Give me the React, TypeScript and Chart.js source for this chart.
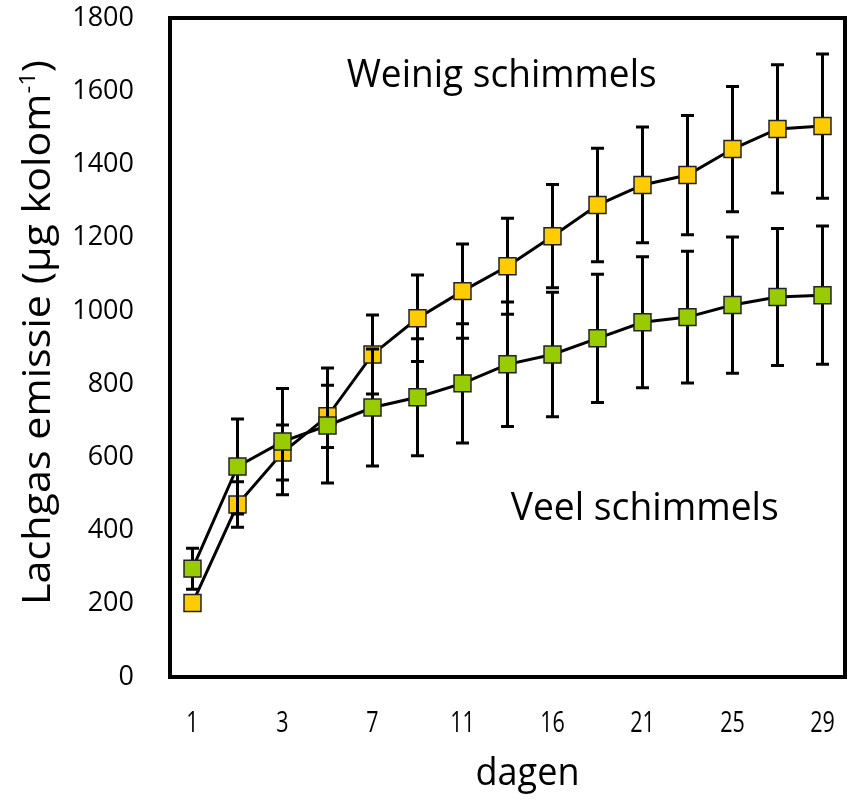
import React, { useEffect, useRef } from "react";
import { Chart, registerables } from "chart.js";

Chart.register(...registerables);

const dayLabels = ["1", "", "3", "", "7", "", "11", "", "16", "", "21", "", "25", "", "29"];
const weinigValues = [202, 471, 613, 712, 881, 980, 1054, 1122, 1204, 1289, 1344, 1371, 1442, 1497, 1505];
const weinigErrors = [20, 62, 75, 85, 108, 118, 129, 131, 141, 155, 158, 163, 171, 175, 197];
const veelValues = [296, 575, 643, 687, 736, 764, 802, 854, 881, 925, 969, 983, 1016, 1038, 1043];
const veelErrors = [56, 130, 145, 157, 160, 160, 163, 170, 170, 175, 179, 180, 186, 187, 189];
const yTicks = [0, 200, 400, 600, 800, 1000, 1200, 1400, 1600, 1800];

const seriesNames = ["Weinig schimmels", "Veel schimmels"];
const yTitleMain = "Lachgas emissie (µg kolom";
const yTitleSup = "-1";
const yTitleEnd = ")";
const xTitle = "dagen";

const errorsByDataset = [weinigErrors, veelErrors];
const FONT = "'Open Sans', 'Noto Sans', sans-serif";

const errorBarPlugin = {
  id: "errorBars",
  beforeDatasetDraw(chart: any, args: any) {
    const errs = errorsByDataset[args.index];
    const ds = chart.data.datasets[args.index];
    if (!errs) return;
    const ctx = chart.ctx;
    const y = chart.scales.y;
    ctx.save();
    ctx.strokeStyle = "#000";
    ctx.lineWidth = 3;
    ctx.lineCap = "butt";
    args.meta.data.forEach((pt: any, i: number) => {
      const v = ds.data[i];
      const e = errs[i];
      const top = y.getPixelForValue(v + e);
      const bot = y.getPixelForValue(v - e);
      const cw = 6.5;
      ctx.beginPath();
      ctx.moveTo(pt.x, top);
      ctx.lineTo(pt.x, bot);
      ctx.moveTo(pt.x - cw, top);
      ctx.lineTo(pt.x + cw, top);
      ctx.moveTo(pt.x - cw, bot);
      ctx.lineTo(pt.x + cw, bot);
      ctx.stroke();
    });
    ctx.restore();
  },
};

function fitText(ctx: any, text: string, x: number, y: number, targetWidth: number) {
  const w = ctx.measureText(text).width;
  ctx.save();
  ctx.translate(x, y);
  ctx.scale(targetWidth / w, 1);
  ctx.fillText(text, 0, 0);
  ctx.restore();
}

const framePlugin = {
  id: "frameAndText",
  beforeDatasetsDraw(chart: any) {
    const { ctx, chartArea } = chart;
    ctx.save();
    ctx.strokeStyle = "#000";
    ctx.lineWidth = 4;
    ctx.strokeRect(chartArea.left, chartArea.top, chartArea.right - chartArea.left, chartArea.bottom - chartArea.top);
    ctx.restore();
  },
  afterDraw(chart: any) {
    const { ctx, chartArea, scales } = chart;
    const x = scales.x;
    const y = scales.y;
    ctx.save();
    ctx.fillStyle = "#000";
    ctx.textAlign = "center";
    ctx.textBaseline = "alphabetic";
    // annotations
    ctx.font = `38px ${FONT}`;
    fitText(ctx, seriesNames[0], x.getPixelForValue(6.87), y.getPixelForValue(1612), 310);
    fitText(ctx, seriesNames[1], x.getPixelForValue(10.05), y.getPixelForValue(430), 268);
    // x tick labels (condensed)
    ctx.font = `29px ${FONT}`;
    dayLabels.forEach((lab, i) => {
      if (!lab) return;
      const px = x.getPixelForTick(i);
      ctx.save();
      ctx.translate(px, chartArea.bottom + 55);
      ctx.scale(0.74, 1);
      ctx.fillText(lab, 0, 0);
      ctx.restore();
    });
    // x title
    ctx.font = `38px ${FONT}`;
    fitText(ctx, xTitle, (chartArea.left + chartArea.right) / 2 + 20, chartArea.bottom + 108, 104);
    // y title with superscript
    ctx.translate(50, (chartArea.top + chartArea.bottom) / 2 - 15);
    ctx.rotate(-Math.PI / 2);
    const mainFont = `38px ${FONT}`;
    const supFont = `22px ${FONT}`;
    ctx.font = mainFont;
    const w1 = ctx.measureText(yTitleMain).width;
    const w3 = ctx.measureText(yTitleEnd).width;
    ctx.font = supFont;
    const w2 = ctx.measureText(yTitleSup).width;
    const total = w1 + w2 + w3;
    const target = 545;
    ctx.scale(target / total, 1);
    ctx.textAlign = "left";
    let cx = -total / 2;
    ctx.font = mainFont;
    ctx.fillText(yTitleMain, cx, 0);
    cx += w1;
    ctx.font = supFont;
    ctx.fillText(yTitleSup, cx, -15);
    cx += w2;
    ctx.font = mainFont;
    ctx.fillText(yTitleEnd, cx, 0);
    ctx.restore();
  },
};

export default function App() {
  const ref = useRef<HTMLCanvasElement | null>(null);
  useEffect(() => {
    if (!ref.current) return;
    const chart = new Chart(ref.current, {
      type: "line",
      data: {
        labels: dayLabels,
        datasets: [
          {
            label: seriesNames[0],
            data: weinigValues,
            order: 2,
            borderColor: "#000",
            borderWidth: 3,
            pointStyle: "rect",
            pointRadius: 12,
            pointBackgroundColor: "#FFCC00",
            pointBorderColor: "#222",
            pointBorderWidth: 1.5,
            tension: 0,
          },
          {
            label: seriesNames[1],
            data: veelValues,
            order: 1,
            borderColor: "#000",
            borderWidth: 3,
            pointStyle: "rect",
            pointRadius: 12,
            pointBackgroundColor: "#99CC00",
            pointBorderColor: "#222",
            pointBorderWidth: 1.5,
            tension: 0,
          },
        ],
      },
      options: {
        animation: false,
        responsive: false,
        maintainAspectRatio: false,
        layout: { autoPadding: false, padding: { left: 0, top: 18, right: 6, bottom: 0 } },
        plugins: { legend: { display: false }, tooltip: { enabled: false } },
        scales: {
          x: {
            type: "category",
            offset: true,
            grid: { display: false, drawTicks: false },
            border: { display: false },
            ticks: { display: false, autoSkip: false },
            afterFit: (s: any) => {
              s.height = 123;
              s.paddingLeft = 0;
              s.paddingRight = 0;
            },
          },
          y: {
            min: 0,
            max: 1800,
            grid: { display: false, drawTicks: false },
            border: { display: false },
            afterBuildTicks: (s: any) => {
              s.ticks = yTicks.map((v) => ({ value: v }));
            },
            ticks: {
              padding: 36,
              color: "#000",
              font: { family: FONT, size: 27 },
              callback: (v: any) => String(v),
            },
            afterFit: (s: any) => {
              s.width = 170;
              s.paddingTop = 0;
              s.paddingBottom = 0;
            },
          },
        },
      },
      plugins: [errorBarPlugin, framePlugin],
    });
    return () => chart.destroy();
  }, []);
  return (
    <div style={{ position: "absolute", left: 0, top: 0, width: 851, height: 800, background: "#fff" }}>
      <canvas ref={ref} width={851} height={800} style={{ width: 851, height: 800 }} />
    </div>
  );
}
